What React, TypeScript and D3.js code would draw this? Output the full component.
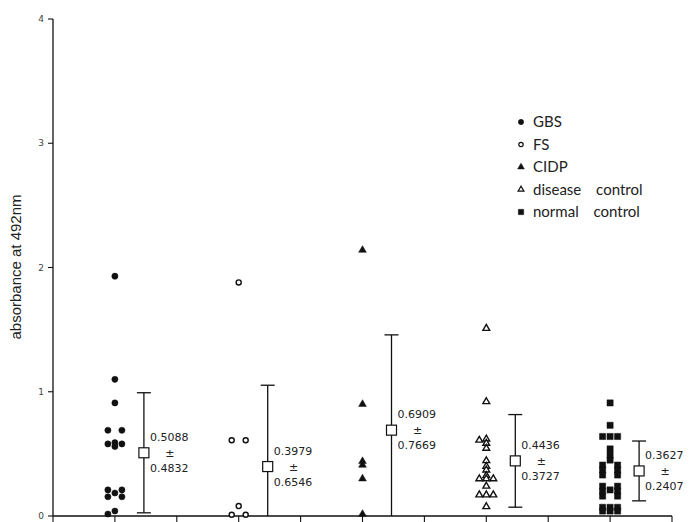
import { useEffect, useRef } from 'react';
import * as d3 from 'd3';

const width = 690;
const height = 522;

// groups, in plotting order
const groupNames = ['GBS', 'FS', 'CIDP', 'disease control', 'normal control'];

// absorbance values
const gbsValues = [1.93, 1.10, 0.91, 0.69, 0.69, 0.59, 0.58, 0.58, 0.56, 0.21, 0.21, 0.185, 0.155, 0.155, 0.04, 0.016];
const fsValues = [1.88, 0.61, 0.61, 0.08, 0.01, 0.01];
const cidpValues = [2.14, 0.90, 0.44, 0.41, 0.30, 0.015];
const diseaseValues = [1.51, 0.92, 0.62, 0.61, 0.585, 0.545, 0.445, 0.40, 0.37, 0.325, 0.30, 0.30, 0.30, 0.24, 0.17, 0.17, 0.17, 0.075];
const normalValues = [0.91, 0.73, 0.64, 0.64, 0.64, 0.54, 0.49, 0.45, 0.41, 0.41, 0.37, 0.37, 0.33, 0.33, 0.24, 0.24, 0.21, 0.20, 0.20, 0.16, 0.16, 0.07, 0.07, 0.07, 0.04, 0.04, 0.04];

const meanValues = [0.5088, 0.3979, 0.6909, 0.4436, 0.3627];
const sdValues = [0.4832, 0.6546, 0.7669, 0.3727, 0.2407];

const yTicks = [0, 1, 2, 3, 4];
const xTickCount = 10;

type MarkerKind = 'filledCircle' | 'openCircle' | 'filledTriangle' | 'openTriangle' | 'filledSquare';
const markerKinds: MarkerKind[] = ['filledCircle', 'openCircle', 'filledTriangle', 'openTriangle', 'filledSquare'];

const allValues = [gbsValues, fsValues, cidpValues, diseaseValues, normalValues];

function markerPath(kind: MarkerKind, scale = 1): string {
  if (kind === 'filledCircle' || kind === 'openCircle') {
    return d3.symbol(d3.symbolCircle, (kind === 'filledCircle' ? 30 : 20) * scale)()!;
  }
  if (kind === 'filledTriangle' || kind === 'openTriangle') {
    return d3.symbol(d3.symbolTriangle, (kind === 'filledTriangle' ? 26 : 20) * scale)()!;
  }
  return d3.symbol(d3.symbolSquare, 38 * scale)()!;
}

// horizontal dodge: repeated values go side by side, the rest stay central
function dodge(values: number[], y: (v: number) => number, step: number, thresh: number) {
  const placed: { x: number; y: number }[] = [];
  return values.map(v => {
    const py = y(v);
    const dup = values.filter(o => o === v).length > 1;
    const order = dup ? [-1, 1, 0, -2, 2, -3, 3] : [0, -1, 1, -2, 2, -3, 3];
    for (const k of order) {
      const px = k * step;
      const hit = placed.some(p => Math.abs(p.x - px) < step * 0.9 && Math.abs(p.y - py) < thresh);
      if (!hit) {
        placed.push({ x: px, y: py });
        return { v, dx: px };
      }
    }
    return { v, dx: 0 };
  });
}

export default function App() {
  const svgRef = useRef<SVGSVGElement>(null);

  useEffect(() => {
    if (!svgRef.current) return;
    const svg = d3.select(svgRef.current);
    svg.selectAll('*').remove();

    const x = d3.scaleLinear().domain([0, xTickCount]).range([53, 672]);
    const y = d3.scaleLinear().domain([0, 4]).range([516, 19]);

    svg.append('rect').attr('width', width).attr('height', height).attr('fill', '#fff');

    // y axis
    const yAxis = svg.append('g');
    yAxis.append('line')
      .attr('x1', x(0)).attr('x2', x(0))
      .attr('y1', y(4)).attr('y2', y(0))
      .attr('stroke', '#111').attr('stroke-width', 1.3);
    yTicks.forEach(t => {
      yAxis.append('line')
        .attr('x1', x(0) - 5).attr('x2', x(0))
        .attr('y1', y(t)).attr('y2', y(t))
        .attr('stroke', '#111').attr('stroke-width', 1.1);
      yAxis.append('text')
        .attr('x', x(0) - 9)
        .attr('y', y(t))
        .attr('dy', '0.35em')
        .attr('text-anchor', 'end')
        .attr('font-family', 'DejaVu Sans, sans-serif')
        .attr('font-size', '9px')
        .attr('fill', '#444')
        .text(t);
    });

    // x axis
    const xAxis = svg.append('g');
    xAxis.append('line')
      .attr('x1', x(0)).attr('x2', x(xTickCount))
      .attr('y1', y(0)).attr('y2', y(0))
      .attr('stroke', '#111').attr('stroke-width', 1.3);
    x.ticks(xTickCount).forEach(t => {
      xAxis.append('line')
        .attr('x1', x(t)).attr('x2', x(t))
        .attr('y1', y(0)).attr('y2', y(0) + 6)
        .attr('stroke', '#111').attr('stroke-width', 1.1);
    });

    // y title
    svg.append('text')
      .attr('transform', 'translate(21,267) rotate(-90)')
      .attr('text-anchor', 'middle')
      .attr('font-family', 'Liberation Sans, Arial, sans-serif')
      .attr('font-size', '15px')
      .attr('fill', '#222')
      .text('absorbance at 492nm');

    // points
    groupNames.forEach((name, i) => {
      const kind = markerKinds[i];
      const cx = x(i * 2 + 1);
      const step = kind === 'filledSquare' ? 7.5 : 7;
      const pts = dodge(allValues[i], y, step, 3);
      const open = kind === 'openCircle' || kind === 'openTriangle';
      svg.append('g')
        .attr('class', `group-${i}`)
        .selectAll('path')
        .data(pts)
        .join('path')
        .attr('d', markerPath(kind))
        .attr('transform', d => `translate(${cx + d.dx},${y(d.v)})`)
        .attr('fill', open ? '#fff' : '#111')
        .attr('stroke', '#111')
        .attr('stroke-width', open ? 1.4 : 0.5);

      // mean +- sd
      const mx = cx + 29;
      const mean = meanValues[i];
      const sd = sdValues[i];
      const lo = Math.max(0, mean - sd);
      const hi = mean + sd;
      const eb = svg.append('g');
      eb.append('line')
        .attr('x1', mx).attr('x2', mx)
        .attr('y1', y(hi)).attr('y2', y(lo))
        .attr('stroke', '#111').attr('stroke-width', 1.3);
      eb.append('line')
        .attr('x1', mx - 7).attr('x2', mx + 7)
        .attr('y1', y(hi)).attr('y2', y(hi))
        .attr('stroke', '#111').attr('stroke-width', 1.3);
      if (mean - sd > 0) {
        eb.append('line')
          .attr('x1', mx - 7).attr('x2', mx + 7)
          .attr('y1', y(lo)).attr('y2', y(lo))
          .attr('stroke', '#111').attr('stroke-width', 1.3);
      }
      eb.append('rect')
        .attr('x', mx - 5).attr('y', y(mean) - 5)
        .attr('width', 10).attr('height', 10)
        .attr('fill', '#fff').attr('stroke', '#111').attr('stroke-width', 1.2);

      const tx = mx + 6;
      const textAttrs = (sel: d3.Selection<SVGTextElement, unknown, null, undefined>) =>
        sel.attr('font-family', 'DejaVu Sans, sans-serif')
          .attr('font-size', '11px')
          .attr('fill', '#222');
      eb.append('text').attr('x', tx).attr('y', y(mean) - 12).call(textAttrs).text(mean.toFixed(4));
      eb.append('text').attr('x', tx + 20).attr('y', y(mean) + 4).attr('text-anchor', 'middle').call(textAttrs).text('±');
      eb.append('text').attr('x', tx).attr('y', y(mean) + 19).call(textAttrs).text(sd.toFixed(4));
    });

    // legend
    const legend = svg.append('g').attr('transform', 'translate(521,122)');
    groupNames.forEach((label, i) => {
      const kind = markerKinds[i];
      const open = kind === 'openCircle' || kind === 'openTriangle';
      const row = legend.append('g').attr('transform', `translate(0,${i * 22.5})`);
      row.append('path')
        .attr('d', markerPath(kind, 0.75))
        .attr('fill', open ? '#fff' : '#111')
        .attr('stroke', '#111')
        .attr('stroke-width', open ? 1.2 : 0.5);
      row.append('text')
        .attr('x', 12)
        .attr('y', 0)
        .attr('dy', '0.35em')
        .attr('font-family', 'Lato, sans-serif')
        .attr('font-size', '15px')
        .attr('word-spacing', '11px')
        .attr('fill', '#222')
        .text(label);
    });
  }, []);

  return (
    <svg
      ref={svgRef}
      width={width}
      height={height}
      style={{ position: 'absolute', left: 0, top: 0 }}
    />
  );
}
